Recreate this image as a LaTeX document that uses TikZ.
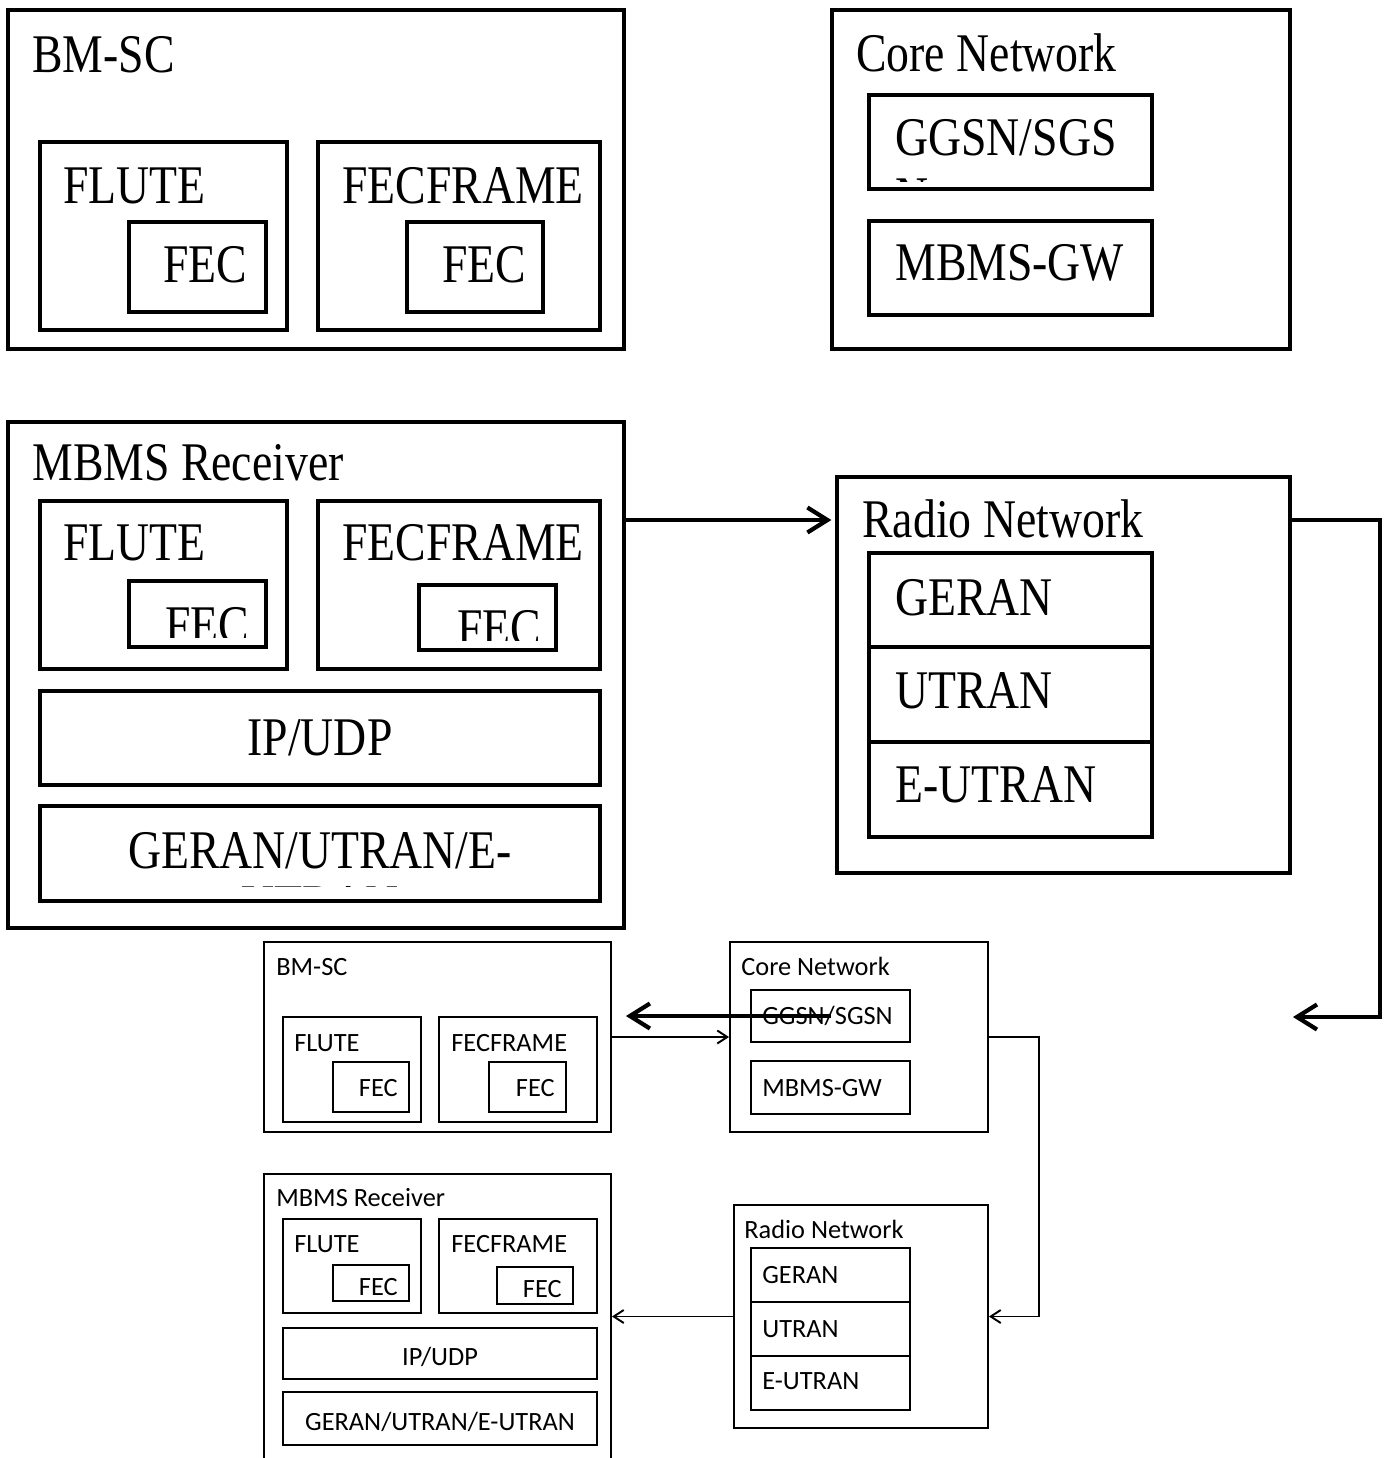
\documentclass[tikz,border=0pt]{standalone}
\usepackage{fontspec}
\setmainfont{Liberation Serif}
\newfontfamily\bigserif[FakeStretch=0.84]{Liberation Serif}
\newfontfamily\smallsans{Carlito}
\usetikzlibrary{arrows.meta,fit}

\begin{document}
\begin{tikzpicture}[x=0.02cm, y=-0.02cm,
    bigbox/.style={draw, line width=2.4pt, inner sep=0pt},
    smallbox/.style={draw, line width=1.1pt, inner sep=0pt},
    bigtxt/.style={font=\bigserif\fontsize{31}{33}\selectfont, inner sep=0pt},
    smalltxt/.style={font=\smallsans\fontsize{15}{18}\selectfont, inner sep=0pt},
    bigarrow/.style={line width=2.4pt, -{Straight Barb[length=4mm, width=5mm]}},
    smallarrow/.style={line width=1.1pt, -{Straight Barb[length=2mm, width=2.6mm]}}]
    \clip (0,0) rectangle (1387,1458);
    \fill[white] (0,0) rectangle (1387,1458);

    % big version, top left
    \node[bigbox, fit={(8,10) (624,349)}] (bmsc) {};
    \node[bigtxt, anchor=base west] (bmsclbl) at (32,72) {BM-SC};
    \node[bigbox, fit={(40,142) (287,330)}] (flute1) {};
    \node[bigtxt, anchor=base west] (flute1lbl) at (63,203) {FLUTE};
    \node[bigbox, fit={(129,222) (266,312)}] (fec1) {};
    \node[bigtxt, anchor=base west] (fec1lbl) at (163,282) {FEC};
    \node[bigbox, fit={(318,142) (600,330)}] (fecframe1) {};
    \node[bigtxt, anchor=base west] (fecframe1lbl) at (342,203) {FECFRAME};
    \node[bigbox, fit={(407,222) (543,312)}] (fec2) {};
    \node[bigtxt, anchor=base west] (fec2lbl) at (442,282) {FEC};

    % big version, top right
    \node[bigbox, fit={(832,10) (1290,349)}] (core) {};
    \node[bigtxt, anchor=base west] (corelbl) at (856,71) {Core Network};
    \node[bigbox, fit={(869,95) (1152,189)}] (ggsn) {};
    \begin{scope}
        \clip (869,95) rectangle (1152,181);
        \node[bigtxt, anchor=base west] (ggsnlbl) at (895,155)
            {\begin{tabular}[t]{@{}l@{}}GGSN/SGS\\[1pt]N\end{tabular}};
    \end{scope}
    \node[bigbox, fit={(869,221) (1152,315)}] (mbmsgw) {};
    \node[bigtxt, anchor=base west] (mbmsgwlbl) at (895,280) {MBMS-GW};

    % big version, receiver
    \node[bigbox, fit={(8,422) (624,928)}] (recv) {};
    \node[bigtxt, anchor=base west] (recvlbl) at (32,480) {MBMS Receiver};
    \node[bigbox, fit={(40,501) (287,669)}] (flute2) {};
    \node[bigtxt, anchor=base west] (flute2lbl) at (63,560) {FLUTE};
    \node[bigbox, fit={(129,581) (266,647)}] (fec3) {};
    \begin{scope}
        \clip (129,581) rectangle (266,637);
        \node[bigtxt, anchor=base west] (fec3lbl) at (165,643) {FEC};
    \end{scope}
    \node[bigbox, fit={(318,501) (600,669)}] (fecframe2) {};
    \node[bigtxt, anchor=base west] (fecframe2lbl) at (342,560) {FECFRAME};
    \node[bigbox, fit={(419,585) (556,650)}] (fec4) {};
    \begin{scope}
        \clip (419,585) rectangle (556,640);
        \node[bigtxt, anchor=base west] (fec4lbl) at (457,646) {FEC};
    \end{scope}
    \node[bigbox, fit={(40,691) (600,785)}] (ipudp) {};
    \node[bigtxt, anchor=base] (ipudplbl) at (320,755) {IP/UDP};
    \node[bigbox, fit={(40,806) (600,901)}] (geran) {};
    \begin{scope}
        \clip (40,806) rectangle (600,886);
        \node[bigtxt, anchor=base] (geranlbl) at (320,868)
            {\begin{tabular}[t]{@{}c@{}}GERAN/UTRAN/E-\\[-2pt]UTRAN\end{tabular}};
    \end{scope}

    % big version, radio network
    \node[bigbox, fit={(837,477) (1290,873)}] (radio) {};
    \node[bigtxt, anchor=base west] (radiolbl) at (862,537) {Radio Network};
    \node[bigbox, fit={(869,553) (1152,647)}] (geranr) {};
    \node[bigtxt, anchor=base west] (geranrlbl) at (895,615) {GERAN};
    \node[bigbox, fit={(869,647) (1152,742)}] (utran) {};
    \node[bigtxt, anchor=base west] (utranlbl) at (895,708) {UTRAN};
    \node[bigbox, fit={(869,742) (1152,837)}] (eutran) {};
    \node[bigtxt, anchor=base west] (eutranlbl) at (895,802) {E-UTRAN};

    % small version
    \node[smallbox, fit={(264,942) (611,1132)}] (sbmsc) {};
    \node[smalltxt, anchor=base west] (sbmsclbl) at (276,975) {BM-SC};
    \node[smallbox, fit={(283,1017) (421,1122)}] (sflute1) {};
    \node[smalltxt, anchor=base west] (sflute1lbl) at (294,1051) {FLUTE};
    \node[smallbox, fit={(333,1062) (409,1112)}] (sfec1) {};
    \node[smalltxt, anchor=base east] (sfec1lbl) at (398,1096) {FEC};
    \node[smallbox, fit={(439,1017) (597,1122)}] (sfecframe1) {};
    \node[smalltxt, anchor=base west] (sfecframe1lbl) at (451,1051) {FECFRAME};
    \node[smallbox, fit={(489,1062) (566,1112)}] (sfec2) {};
    \node[smalltxt, anchor=base east] (sfec2lbl) at (555,1096) {FEC};

    \node[smallbox, fit={(730,942) (988,1132)}] (score) {};
    \node[smalltxt, anchor=base west] (scorelbl) at (741,975) {Core Network};
    \node[smallbox, fit={(751,990) (910,1042)}] (sggsn) {};
    \node[smalltxt, anchor=base west] (sggsnlbl) at (762,1024) {GGSN/SGSN};
    \node[smallbox, fit={(751,1061) (910,1114)}] (smbmsgw) {};
    \node[smalltxt, anchor=base west] (smbmsgwlbl) at (762,1096) {MBMS-GW};

    \node[smallbox, fit={(264,1174) (611,1480)}] (srecv) {};
    \node[smalltxt, anchor=base west] (srecvlbl) at (276,1206) {MBMS Receiver};
    \node[smallbox, fit={(283,1219) (421,1313)}] (sflute2) {};
    \node[smalltxt, anchor=base west] (sflute2lbl) at (294,1252) {FLUTE};
    \node[smallbox, fit={(333,1265) (409,1301)}] (sfec3) {};
    \node[smalltxt, anchor=base east] (sfec3lbl) at (398,1295) {FEC};
    \node[smallbox, fit={(439,1219) (597,1313)}] (sfecframe2) {};
    \node[smalltxt, anchor=base west] (sfecframe2lbl) at (451,1252) {FECFRAME};
    \node[smallbox, fit={(497,1267) (573,1304)}] (sfec4) {};
    \node[smalltxt, anchor=base east] (sfec4lbl) at (562,1297) {FEC};
    \node[smallbox, fit={(283,1328) (597,1379)}] (sipudp) {};
    \node[smalltxt, anchor=base] (sipudplbl) at (440,1365) {IP/UDP};
    \node[smallbox, fit={(283,1392) (597,1445)}] (sgeran) {};
    \node[smalltxt, anchor=base] (sgeranlbl) at (440,1430) {GERAN/UTRAN/E-UTRAN};

    \node[smallbox, fit={(734,1205) (988,1428)}] (sradio) {};
    \node[smalltxt, anchor=base west] (sradiolbl) at (744,1238) {Radio Network};
    \node[smallbox, fit={(751,1248) (910,1302)}] (sgeranr) {};
    \node[smalltxt, anchor=base west] (sgeranrlbl) at (762,1283) {GERAN};
    \node[smallbox, fit={(751,1302) (910,1356)}] (sutran) {};
    \node[smalltxt, anchor=base west] (sutranlbl) at (762,1337) {UTRAN};
    \node[smallbox, fit={(751,1356) (910,1410)}] (seutran) {};
    \node[smalltxt, anchor=base west] (seutranlbl) at (762,1389) {E-UTRAN};

    % connectors
    \coordinate (ah) at (0,520);
    \coordinate (loopend) at (1293,1017);
    \draw[smallarrow] (sbmsc.east) -- (score.west);
    \draw[smallarrow] (score.east) -- ++(50,0) |- (sradio.east);
    \draw[smallarrow] (sradio.west) -- (srecv.east |- sradio.west);
    \draw[bigarrow, shorten >=2pt] (recv.east |- ah) -- (radio.west |- ah);
    \draw[bigarrow] (radio.east |- ah) -- ++(88,0) |- (loopend);
    \draw[bigarrow, shorten >=0.28cm] (sggsn.center) -- (sbmsc.east |- sggsn.center);
\end{tikzpicture}
\end{document}
